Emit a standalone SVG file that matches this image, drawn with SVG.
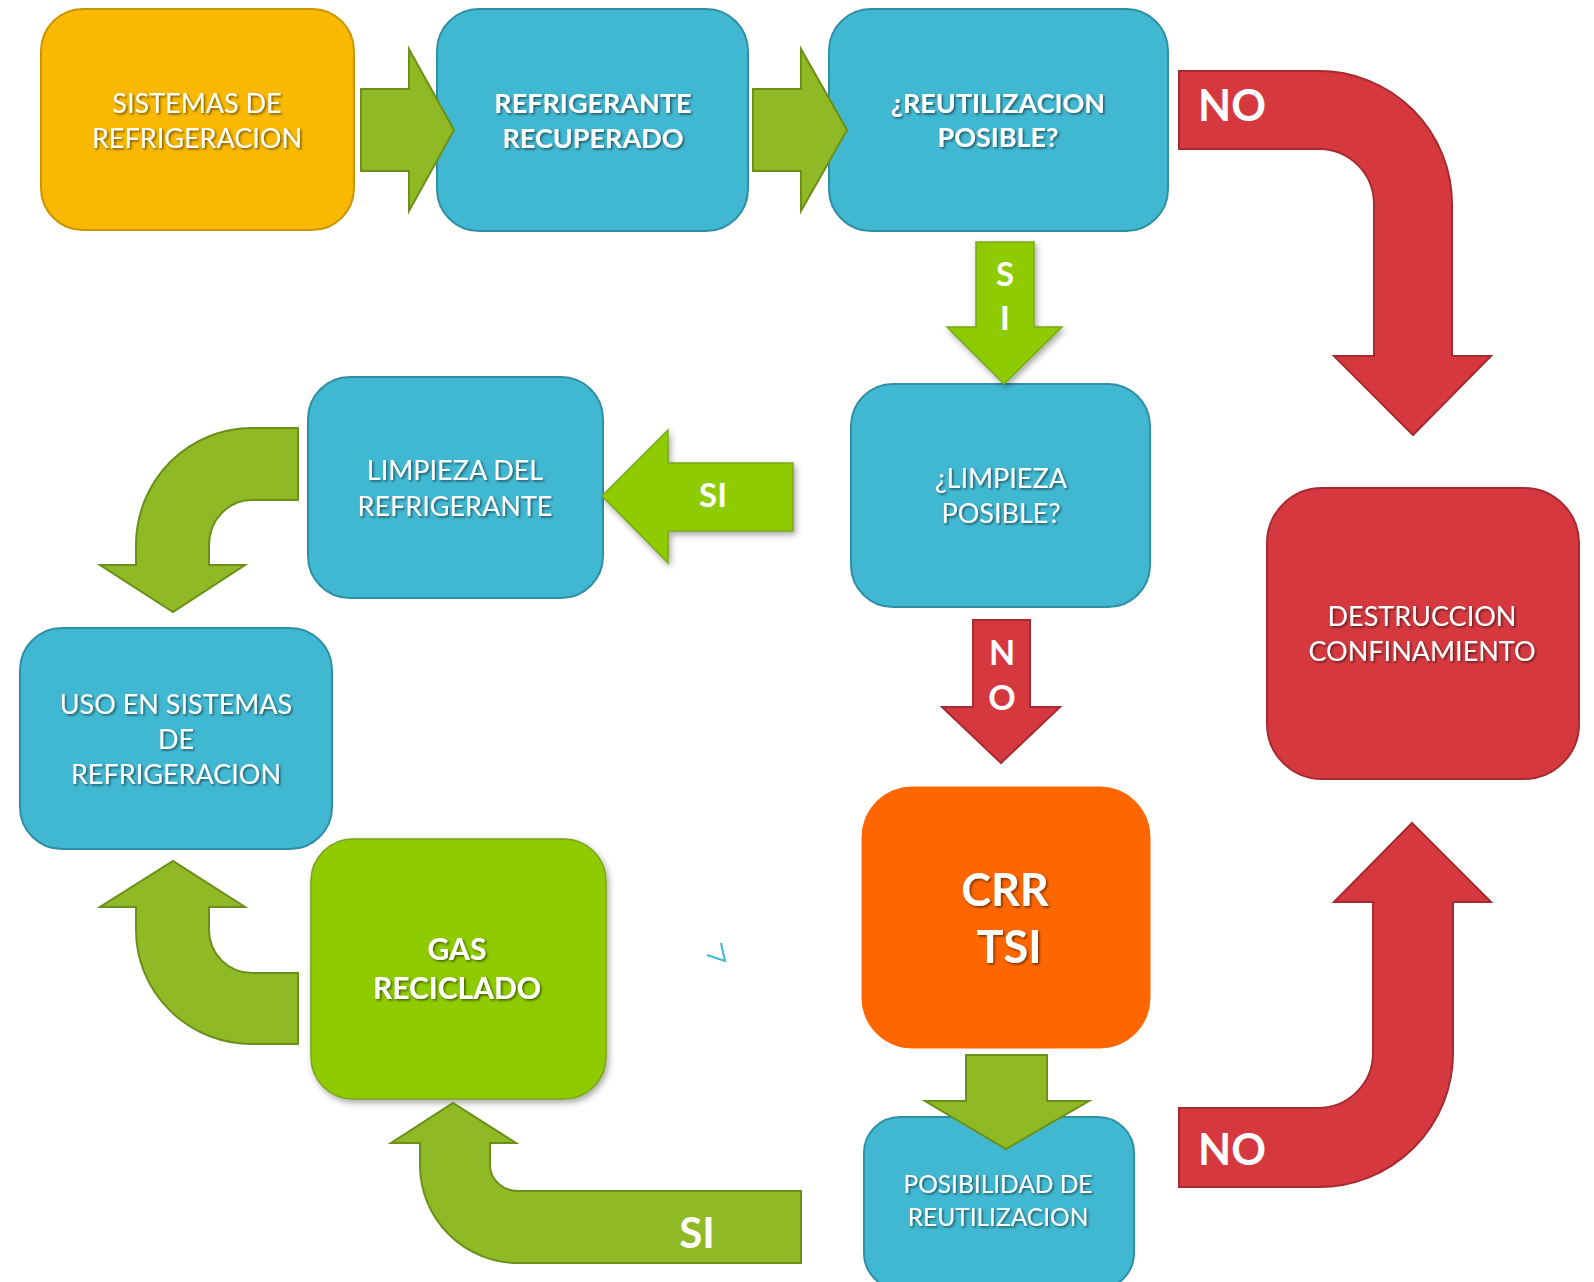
<svg xmlns="http://www.w3.org/2000/svg" width="1594" height="1282" viewBox="0 0 1594 1282">
<defs>
<filter id="ts" x="-10%" y="-30%" width="120%" height="160%">
<feDropShadow dx="1.5" dy="1.5" stdDeviation="1" flood-color="#000" flood-opacity="0.55"/>
</filter>
<filter id="sh" x="-10%" y="-10%" width="125%" height="125%">
<feDropShadow dx="2" dy="3" stdDeviation="3" flood-color="#000" flood-opacity="0.35"/>
</filter>
</defs>
<style>
.blue{fill:#41B8D2;stroke:#2F8FA6;stroke-width:2}
.yel{fill:#FAB800;stroke:#C89600;stroke-width:2}
.red{fill:#D5393F;stroke:#A62A30;stroke-width:2}
.org{fill:#FF6600;stroke:#FF6600;stroke-width:1}
.lime{fill:#8ECB00;stroke:#7AA81A;stroke-width:1.5}
.olive{fill:#8FB925;stroke:#6B8F18;stroke-width:2}
.lbox{fill:#8ECB00;stroke:#7BA21C;stroke-width:1.5}
text{font-family:Lato,"Open Sans","Liberation Sans",sans-serif;fill:#fff;text-anchor:middle}
.t{font-size:27px;filter:url(#ts)}
.tb{font-size:27px;font-weight:bold;filter:url(#ts)}
.lab{font-weight:bold}
</style>
<g id="n1"><rect class="yel" x="41" y="9" width="313" height="221" rx="42"/>
<text class="t" x="197" y="113">SISTEMAS DE</text><text class="t" x="197" y="148">REFRIGERACION</text></g>
<g id="n2"><rect class="blue" x="437" y="9" width="311" height="222" rx="42"/>
<text class="tb" x="593" y="113">REFRIGERANTE</text><text class="tb" x="593" y="148">RECUPERADO</text></g>
<g id="n3"><rect class="blue" x="829" y="9" width="339" height="222" rx="42"/>
<text class="tb" x="998" y="113">¿REUTILIZACION</text><text class="tb" x="998" y="147">POSIBLE?</text></g>
<g id="n4"><rect class="blue" x="851" y="384" width="299" height="223" rx="42"/>
<text class="t" x="1001" y="488">¿LIMPIEZA</text><text class="t" x="1001" y="523">POSIBLE?</text></g>
<g id="n5"><rect class="red" x="1267" y="488" width="312" height="291" rx="55"/>
<text class="t" x="1422" y="626">DESTRUCCION</text><text class="t" x="1422" y="661">CONFINAMIENTO</text></g>
<g id="n6"><rect class="blue" x="308" y="377" width="295" height="221" rx="42"/>
<text class="t" x="455" y="480">LIMPIEZA DEL</text><text class="t" x="455" y="516">REFRIGERANTE</text></g>
<g id="n7"><rect class="blue" x="20" y="628" width="312" height="221" rx="42"/>
<text class="t" x="176" y="714">USO EN SISTEMAS</text><text class="t" x="176" y="749">DE</text><text class="t" x="176" y="784">REFRIGERACION</text></g>
<g id="n8"><rect class="lbox" x="311" y="839" width="295" height="260" rx="42" filter="url(#sh)"/>
<text class="tb" x="457" y="960" style="font-size:30px">GAS</text><text class="tb" x="457" y="999" style="font-size:30px">RECICLADO</text></g>
<g id="n9"><rect class="org" x="862" y="787" width="288" height="261" rx="50"/>
<text class="tb" x="1005" y="906" style="font-size:45px">CRR</text><text class="tb" x="1009" y="963" style="font-size:45px">TSI</text></g>
<g id="n10"><rect class="blue" x="864" y="1117" width="270" height="172" rx="36"/>
<text class="t" x="998" y="1193" style="font-size:24.5px">POSIBILIDAD DE</text><text class="t" x="998" y="1226" style="font-size:24.5px">REUTILIZACION</text></g>
<g id="connectors">
<path class="olive" d="M361,89 H409 V49 L454,130 L409,211 V171 H361 Z"/>
<path class="olive" d="M753,89 H801 V49 L847,130 L801,211 V171 H753 Z"/>
<path class="red" d="M1179,71 H1319 A133,133 0 0 1 1452,204 V356 H1491 L1413,435 L1334,356 H1374 V204 A55,55 0 0 0 1319,149 H1179 Z"/>
<g filter="url(#sh)"><path class="lime" d="M976,242 H1034 V327 H1062 L1004,384 L947,327 H976 Z"/></g>
<path class="red" d="M973,620 H1030 V707 H1060 L1001,763 L942,707 H973 Z"/>
<path class="red" d="M1179,1108 H1318 A55,55 0 0 0 1373,1053 V902 H1334 L1412,823 L1491,902 H1453 V1053 A134,134 0 0 1 1319,1187 H1179 Z"/>
<g filter="url(#sh)"><path class="lime" d="M793,463 H668 V430 L602,496 L668,563 V531 H793 Z"/></g>
<path class="olive" d="M298,428 H252 A116,117 0 0 0 136,545 V565 H100 L173,612 L245,565 H209 V545 A43,45 0 0 1 252,500 H298 Z"/>
<path class="olive" d="M298,1044 H252 A116,114 0 0 1 136,930 V907 H100 L173,861 L245,907 H209 V930 A43,43 0 0 0 252,973 H298 Z"/>
<path class="olive" d="M801,1263 H518 A98,98 0 0 1 420,1165 V1143 H391 L453,1103 L516,1143 H490 V1165 A28,26 0 0 0 518,1191 H801 Z"/>
<path class="olive" d="M966,1055 H1047 V1101 H1089 L1006,1149 L925,1101 H966 Z"/>
<text class="lab" x="1232" y="121" font-size="43">NO</text>
<text class="lab" x="1232" y="1165" font-size="43">NO</text>
<text class="lab" x="1005" y="286" font-size="33">S</text>
<text class="lab" x="1005" y="330" font-size="33">I</text>
<text class="lab" x="1002" y="665" font-size="34">N</text>
<text class="lab" x="1002" y="710" font-size="34">O</text>
<text class="lab" x="713" y="507" font-size="33">SI</text>
<text class="lab" x="697" y="1248" font-size="42">SI</text>
<path d="M707,955 L725,961 L721,943" fill="none" stroke="#41B8D2" stroke-width="2"/>
</g>
</svg>
